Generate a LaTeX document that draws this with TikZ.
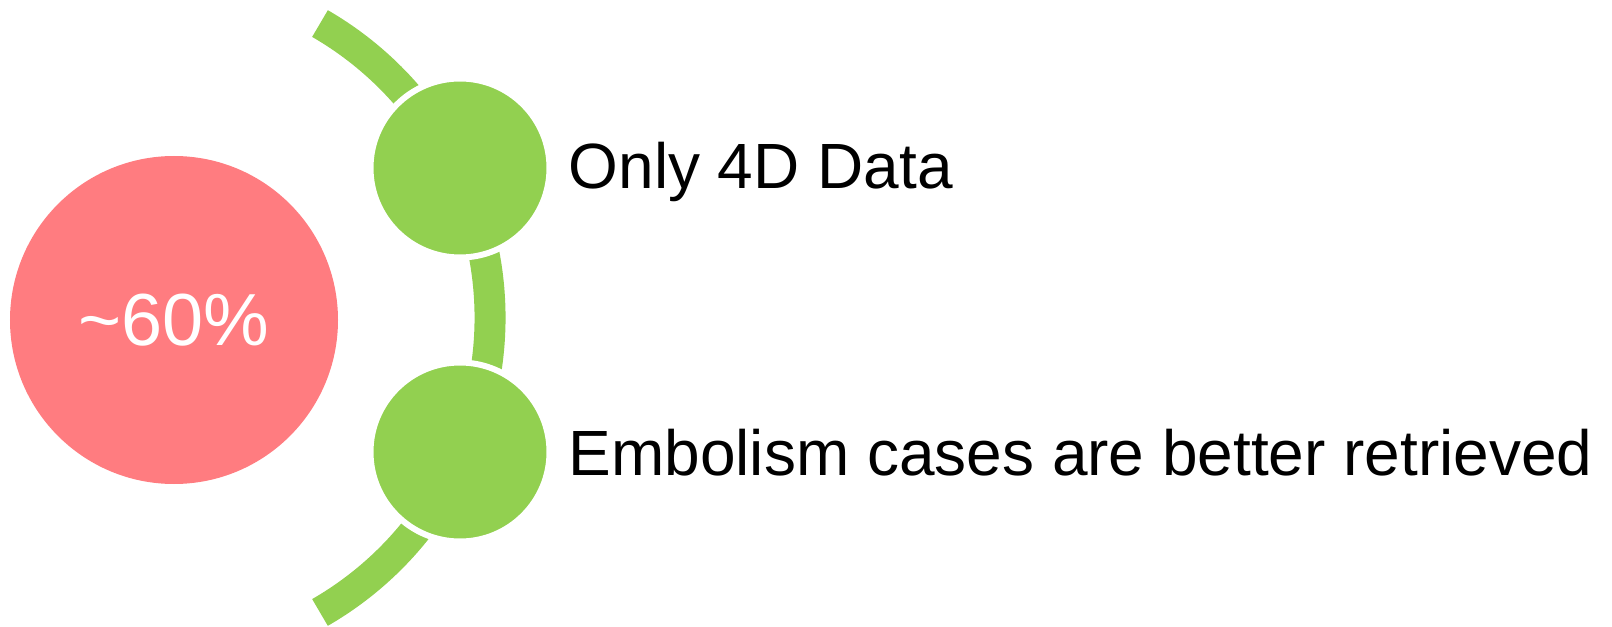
\documentclass[tikz,border=0pt]{standalone}
\usepackage{fontspec}
\setmainfont{Liberation Sans}
\usetikzlibrary{positioning}
\definecolor{ListRed}{HTML}{FF7C80}
\definecolor{ListGreen}{HTML}{92D050}
\tikzset{
  bigdot/.style={circle,fill=ListRed,inner sep=0pt,minimum size=6.56cm,
    text=white,font=\fontsize{42}{47}\selectfont},
  itemdot/.style={circle,fill=ListGreen,draw=white,line width=0.12cm,
    inner sep=0pt,minimum size=3.58cm},
  itemtext/.style={anchor=west,font=\fontsize{36.4}{42}\selectfont}
}
\begin{document}
\begin{tikzpicture}[x=1cm,y=1cm]

        \useasboundingbox (0,0) rectangle (32.24,12.52);

        \coordinate (hub) at (3.0,6.16);

        \draw[ListGreen,line width=0.62cm]
          ([shift={(-60:6.8)}]hub) arc[start angle=-60,end angle=60,radius=6.8];

        \node[bigdot] (share) at (3.48,6.12) {\textasciitilde 60\%};

        \node[itemdot] (only) at (9.2,9.16) {};
        \node[itemdot] (embo) at (9.2,3.48) {};

        \node[itemtext,right=0.2cm of only,yshift=-0.08cm] (onlytxt) {Only 4D Data};
        \node[itemtext,right=0.2cm of embo,yshift=-0.02cm] (embotxt) {Embolism cases are better retrieved};

      \end{tikzpicture}
\end{document}
